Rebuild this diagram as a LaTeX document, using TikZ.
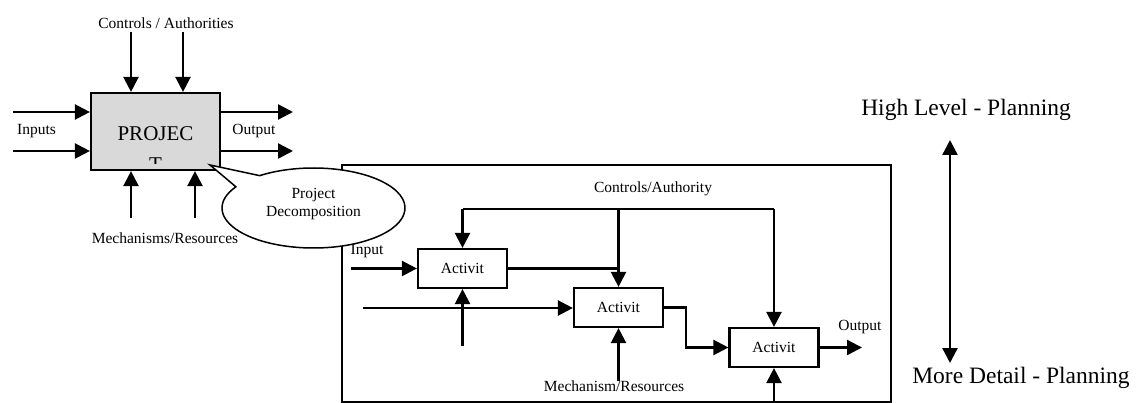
\documentclass[tikz,border=0pt]{standalone}
\usepackage{fontspec}
\setmainfont{Liberation Serif}
\usetikzlibrary{arrows.meta,calc}
\begin{document}
\begin{tikzpicture}[x=1pt,y=-1pt,
  font=\fontsize{15.5}{18}\selectfont,
  arr/.style={line width=2.4pt,-{Triangle[length=15pt,width=15pt]}},
  dbl/.style={line width=2.4pt,{Triangle[length=15pt,width=15pt]}-{Triangle[length=15pt,width=15pt]}},
  wire/.style={line width=2.4pt},
  thinwire/.style={line width=2.1pt},
  abox/.style={draw,line width=2.2pt,fill=white,minimum width=89pt,minimum height=39pt,inner sep=0pt},
  lbl/.style={inner sep=0pt},
  big/.style={inner sep=0pt,font=\fontsize{23.5}{27}\selectfont}]
\useasboundingbox (0,0) rectangle (1142,403);

% ---------- top-level project ----------
\node[draw,line width=2.2pt,fill=black!15,minimum width=129pt,minimum height=77pt,inner sep=0pt] (proj) at (155.5,131.5) {};
\node[lbl,font=\fontsize{21}{24}\selectfont] (projA) at (155.5,134) {PROJEC};
\begin{scope}
  \clip (92,94) rectangle (219,164);
  \node[lbl,font=\fontsize{21}{24}\selectfont] (projB) at (155.5,165) {T};
\end{scope}

\coordinate (ctl1) at (131,32);
\coordinate (ctl2) at (183,32);
\coordinate (in1) at (13,112);
\coordinate (in2) at (13,151);
\coordinate (out1) at (293,112);
\coordinate (out2) at (293,151);
\coordinate (mec1) at (131,218);
\coordinate (mec2) at (195,218);

\draw[arr] (ctl1) -- (ctl1 |- proj.north);
\draw[arr] (ctl2) -- (ctl2 |- proj.north);
\draw[arr] (in1) -- (in1 -| proj.west);
\draw[arr] (in2) -- (in2 -| proj.west);
\draw[arr] (out1 -| proj.east) -- (out1);
\draw[arr] (out2 -| proj.east) -- (out2);
\draw[arr] (mec1) -- (mec1 |- proj.south);
\draw[arr] (mec2) -- (mec2 |- proj.south);

\node[lbl] (lctl) at (166,23) {Controls / Authorities};
\node[lbl] (linp) at (36.5,131) {Inputs};
\node[lbl] (lout) at (254,131) {Output};
\node[lbl] (lmec) at (165,238) {Mechanisms/Resources};

% ---------- decomposition frame ----------
\draw[line width=1.6pt] (342,165) rectangle (891,402);

\node[abox] (a1) at (462.5,268.5) {Activit};
\node[abox] (a2) at (618.5,307.5) {Activit};
\node[abox] (a3) at (774,347.5) {Activit};

\node[lbl] (lca) at (653,189) {Controls/Authority};
\node[lbl] (lin) at (367,251) {Input};
\node[lbl] (lmr) at (614,386) {Mechanism/Resources};
\node[lbl] (lo3) at (860,327) {Output};

\coordinate (ctrl) at (618.5,209);
\coordinate (inA) at (351,268.5);
\coordinate (inB) at (363,308);
\coordinate (m1) at (462.5,346);
\coordinate (m2) at (618.5,381);
\coordinate (m3) at (774,402);
\coordinate (o3) at (862,347.5);

\draw[wire] (a1.north |- ctrl) -- (a3.north |- ctrl);
\draw[arr] (a1.north |- ctrl) -- (a1.north);
\draw[arr] (ctrl) -- (a2.north);
\draw[arr] (a3.north |- ctrl) -- (a3.north);
\draw[arr] (inA) -- (a1.west);
\draw[thinwire] (a1.east) -- (a1.east -| a2.north);
\draw[arr] (m1) -- (a1.south);
\draw[arr] (inB) -- (inB -| a2.west);
\draw[arr] (m2) -- (a2.south);
\draw[arr] (a2.east) -- ++(22,0) |- (a3.west);
\draw[arr] (a3.east) -- (o3);
\draw[arr] (m3) -- (a3.south);

% ---------- callout ----------
\coordinate (ectr) at (313.5,208);
\coordinate (etip) at (210,165);
\draw[line width=1.5pt,fill=white] (etip) -- ($(ectr)+(234:91.5 and 40)$)
  arc[start angle=234,end angle=572,x radius=91.5,y radius=40] -- cycle;
\node[lbl,align=center,font=\fontsize{15.5}{18}\selectfont] (decomp) at (313.5,204) {Project\\Decomposition};

% ---------- right scale ----------
\coordinate (hi) at (950,140);
\coordinate (lo) at (950,363);
\draw[dbl] (hi) -- (lo);
\node[big] (lhi) at (966,110) {High Level - Planning};
\node[big] (llo) at (1021,378) {More Detail - Planning};
\end{tikzpicture}
\end{document}
